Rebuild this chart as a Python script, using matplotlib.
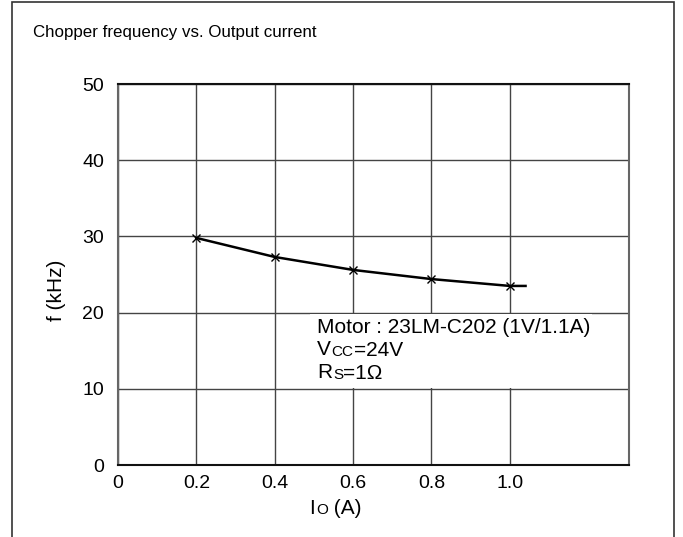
"""
Chopper frequency vs. Output current (23LM-C202 motor)
"""

import matplotlib
matplotlib.use("Agg")
import matplotlib.pyplot as plt
from matplotlib.patches import Rectangle

# Data
current_a = [0.2, 0.4, 0.6, 0.8, 1.0]
freq_khz = [29.8, 27.3, 25.6, 24.4, 23.5]
# curve runs a little past the last measured point
tail_current = 1.04
tail_freq = 23.5

x_ticks = [0, 0.2, 0.4, 0.6, 0.8, 1.0]
x_tick_labels = ["0", "0.2", "0.4", "0.6", "0.8", "1.0"]
y_ticks = [0, 10, 20, 30, 40, 50]

FONT = "Liberation Sans"
FS_TITLE = 12.2
FS_TICK = 14
FS_LABEL = 15
FS_NOTE = 15
FS_SMALL = 11

plt.rcParams["font.family"] = [FONT, "DejaVu Sans"]

fig = plt.figure(figsize=(6.83, 5.37), dpi=100)
W, H = 683, 537

# outer frame around the whole figure
fig.patches.append(Rectangle((12 / W, -0.05), (674 - 12) / W, 1.05 - 2 / H,
                             transform=fig.transFigure, fill=False,
                             edgecolor="#333333", linewidth=1.2))

fig.text(33 / W, 1 - 32 / H, "Chopper frequency vs. Output current",
         fontsize=FS_TITLE, va="center", ha="left")

ax = fig.add_axes([118 / W, 1 - 465 / H, (629 - 118) / W, (465 - 84) / H])
ax.set_xlim(0, 1.304)
ax.set_ylim(0, 50)

ax.set_xticks(x_ticks)
ax.set_xticklabels(x_tick_labels)
ax.set_yticks(y_ticks)
ax.tick_params(length=0, labelsize=FS_TICK)
ax.tick_params(axis="y", pad=10)
ax.tick_params(axis="x", pad=7)
ax.grid(True, color="#444444", linewidth=1.0)
ax.set_axisbelow(True)
for side in ["top", "bottom"]:
    ax.spines[side].set_linewidth(1.5)
    ax.spines[side].set_color("#111111")
for side in ["left", "right"]:
    ax.spines[side].set_linewidth(1.5)
    ax.spines[side].set_color("#666666")

ax.plot(current_a + [tail_current], freq_khz + [tail_freq],
        color="black", linewidth=1.8, zorder=3)
ax.plot(current_a, freq_khz, linestyle="none", marker="x", color="black",
        markersize=6, markeredgewidth=1.0, zorder=4)

ax.set_ylabel("f (kHz)", fontsize=FS_LABEL)
ax.yaxis.set_label_coords((66 - 118) / 511, (465 - 290) / 381)

# x label: I with small-caps O
xl = fig.text(309 / W, 1 - 508 / H, "I", fontsize=FS_LABEL, ha="left",
              va="center")
o = ax.annotate("O", xy=(1, 0), xycoords=xl, fontsize=FS_SMALL, va="bottom",
                ha="left", xytext=(1.0, 0), textcoords="offset points")
ax.annotate(" (A)", xy=(1, 0), xycoords=o, fontsize=FS_LABEL, va="bottom",
            ha="left", xytext=(0, -0.5), textcoords="offset points")

# annotation block, on a white patch that hides the grid between 10 and 20
ax.add_patch(Rectangle((0.49, 10.15), 0.72, 9.7, facecolor="white",
                       edgecolor="none", zorder=2))
tx = 0.508
ax.text(tx, 18.1, "Motor : 23LM-C202 (1V/1.1A)", fontsize=FS_NOTE,
        va="center", zorder=5)
v = ax.text(tx, 15.15, "V", fontsize=FS_NOTE, va="center", zorder=5)
cc = ax.annotate("CC", xy=(1, 0), xycoords=v, fontsize=FS_SMALL, va="bottom",
                 ha="left", xytext=(0.5, 0), textcoords="offset points")
ax.annotate("=24V", xy=(1, 0), xycoords=cc, fontsize=FS_NOTE, va="bottom",
            ha="left", xytext=(0, -0.5), textcoords="offset points")
r = ax.text(tx, 12.1, "R", fontsize=FS_NOTE, va="center", zorder=5)
s = ax.annotate("S", xy=(1, 0), xycoords=r, fontsize=FS_SMALL, va="bottom",
                ha="left", xytext=(0.5, 0), textcoords="offset points")
ax.annotate("=1\u03a9", xy=(1, 0), xycoords=s, fontsize=FS_NOTE, va="bottom",
            ha="left", xytext=(0, -0.5), textcoords="offset points")

fig.savefig("out.png", dpi=100)
